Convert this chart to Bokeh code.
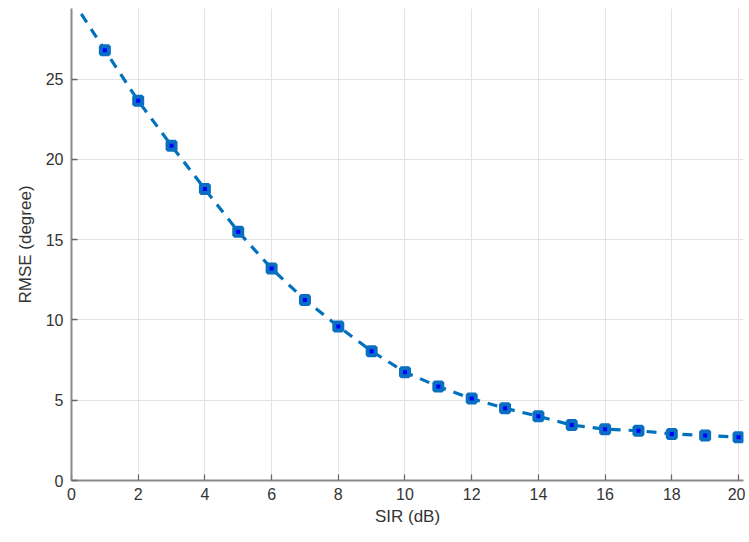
from bokeh.plotting import figure
from bokeh.models import Range1d, FixedTicker
from bokeh.embed import file_html
from bokeh.resources import INLINE

sir = [0, 1, 2, 3, 4, 5, 6, 7, 8, 9, 10, 11, 12, 13, 14, 15, 16, 17, 18, 19, 20]
rmse = [30.0, 26.8, 23.65, 20.85, 18.15, 15.5, 13.2, 11.25, 9.6, 8.05, 6.75,
        5.85, 5.1, 4.5, 4.0, 3.45, 3.2, 3.1, 2.9, 2.8, 2.7]
x_ticks = [0, 2, 4, 6, 8, 10, 12, 14, 16, 18, 20]
y_ticks = [0, 5, 10, 15, 20, 25]

p = figure(width=745, height=538, output_backend="svg", toolbar_location=None,
           x_range=Range1d(0, 20.15), y_range=Range1d(0, 29.4),
           min_border_left=71, min_border_right=2, min_border_top=8,
           min_border_bottom=58)
p.outline_line_color = None
p.background_fill_color = "white"

p.line(sir, rmse, line_color="#0072BD", line_width=3.2, line_dash="10 8")
p.scatter(sir[1:], rmse[1:], marker="square", size=8, line_color="#0a6fc2",
          line_width=4, fill_color="#0000FF")

for ax, ticks in ((p.xaxis, x_ticks), (p.yaxis, y_ticks)):
    ax.ticker = FixedTicker(ticks=ticks)
    ax.axis_line_color = "#8a8a8a"
    ax.axis_line_width = 2
    ax.major_tick_line_color = "#6a6a6a"
    ax.major_tick_line_width = 1.3
    ax.major_tick_in = 6
    ax.major_tick_out = 0
    ax.minor_tick_line_color = None
    ax.major_label_text_font = "Liberation Sans"
    ax.major_label_text_font_size = "16px"
    ax.major_label_text_color = "#333333"
    ax.axis_label_text_font = "Liberation Sans"
    ax.axis_label_text_font_size = "17px"
    ax.axis_label_text_font_style = "normal"
    ax.axis_label_text_color = "#333333"

p.xaxis.axis_label = "SIR (dB)"
p.yaxis.axis_label = "RMSE (degree)"
p.xaxis.major_label_standoff = 7
p.yaxis.major_label_standoff = 8
p.xaxis.axis_label_standoff = 4
p.yaxis.axis_label_standoff = 8

p.grid.grid_line_color = "#e3e3e3"
p.grid.grid_line_width = 1

open("out.html", "w").write(file_html(p, INLINE))
